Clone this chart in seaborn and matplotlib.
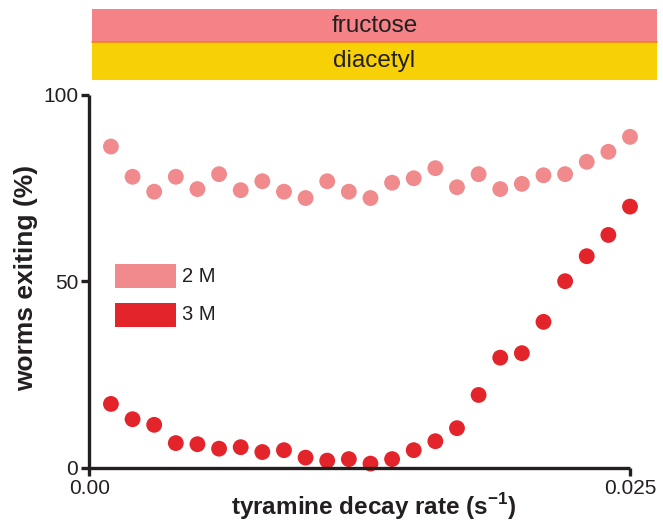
import numpy as np
import pandas as pd
import matplotlib
matplotlib.use("Agg")
import matplotlib.pyplot as plt
import seaborn as sns
from matplotlib.patches import Rectangle

decay_rate = [0.001 * i for i in range(1, 26)]
exit_2M = [86.1, 78.0, 74.0, 78.0, 74.7, 78.7, 74.4, 76.8, 74.0, 72.3, 76.8, 74.0, 72.3,
           76.4, 77.6, 80.3, 75.2, 78.7, 74.7, 76.1, 78.4, 78.7, 82.0, 84.7, 88.7]
exit_3M = [17.1, 13.0, 11.5, 6.6, 6.3, 5.1, 5.5, 4.2, 4.7, 2.7, 1.9, 2.3, 1.1,
           2.3, 4.7, 7.1, 10.6, 19.5, 29.5, 30.7, 39.1, 50.0, 56.7, 62.4, 70.0]
series_labels = ["2 M", "3 M"]
band_labels = ["fructose", "diacetyl"]
x_ticks = [0.0, 0.025]
x_ticklabels = ["0.00", "0.025"]
y_ticks = [0, 50, 100]

colors = {"2 M": "#F08A8C", "3 M": "#E4242B"}

df = pd.concat([
    pd.DataFrame({"rate": decay_rate, "pct": exit_2M, "conc": "2 M"}),
    pd.DataFrame({"rate": decay_rate, "pct": exit_3M, "conc": "3 M"}),
])

sns.set_theme(style="white")
plt.rcParams["font.family"] = ["Liberation Sans", "DejaVu Sans"]

W, H = 663, 529
fig = plt.figure(figsize=(W / 100, H / 100), dpi=100)
ax = fig.add_axes([89.3 / W, (H - 467.7) / H, (630.0 - 89.3) / W, (467.7 - 94.7) / H])

sns.scatterplot(data=df, x="rate", y="pct", hue="conc", palette=colors,
                s=130, linewidth=0, ax=ax, legend=False, clip_on=False)

ax.set_xlim(0, 0.025)
ax.set_ylim(0, 100)
ax.set_xticks(x_ticks)
ax.set_xticklabels(x_ticklabels)
ax.set_yticks(y_ticks)
for s in ["top", "right"]:
    ax.spines[s].set_visible(False)
for s in ["left", "bottom"]:
    ax.spines[s].set_linewidth(2.4)
    ax.spines[s].set_color("#231F20")
    ax.spines[s].set_capstyle("butt")
ax.tick_params(axis="both", direction="out", length=6, width=2.4, color="#231F20",
               labelsize=15, labelcolor="#231F20", pad=2, bottom=True, left=True)
ax.set_xlabel("tyramine decay rate (s$^{\\mathregular{-1}}$)", fontsize=17.5,
              fontweight="bold", color="#231F20")
ax.xaxis.set_label_coords((374 - 89.3) / 540.7, -(491 - 467.7) / 373)
ax.set_ylabel("worms exiting (%)", fontsize=19, fontweight="bold",
              color="#231F20")
ax.yaxis.set_label_coords(-(89.3 - 38) / 540.7, (467.7 - 277.5) / 373)
ax.grid(False)

# legend as patches in figure coords
for i, lab in enumerate(series_labels):
    y_top = 264 + i * 39
    rect = Rectangle((115 / W, (H - y_top - 23.5) / H), 61 / W, 23.5 / H,
                     transform=fig.transFigure, color=colors[lab], lw=0)
    fig.patches.append(rect)
    fig.text(182 / W, (H - y_top - 12) / H, lab, fontsize=14.5, color="#231F20",
             va="center", ha="left")

# header bands
band_colors = ["#F58286", "#F7D106"]
band_rows = [(9, 42.3), (42.3, 80)]
for (t, b), c, lab in zip(band_rows, band_colors, band_labels):
    fig.patches.append(Rectangle((92 / W, (H - b) / H), (657 - 92) / W, (b - t) / H,
                                 transform=fig.transFigure, color=c, lw=0))
    fig.text((92 + 657) / 2 / W, (H - (t + b) / 2) / H, lab, fontsize=17.5,
             color="#231F20", ha="center", va="center")
fig.add_artist(plt.Line2D([92 / W, 657 / W], [(H - 42.3) / H] * 2,
                          transform=fig.transFigure, color="#F57F20", lw=1.2))

fig.savefig("out.png", dpi=100)
